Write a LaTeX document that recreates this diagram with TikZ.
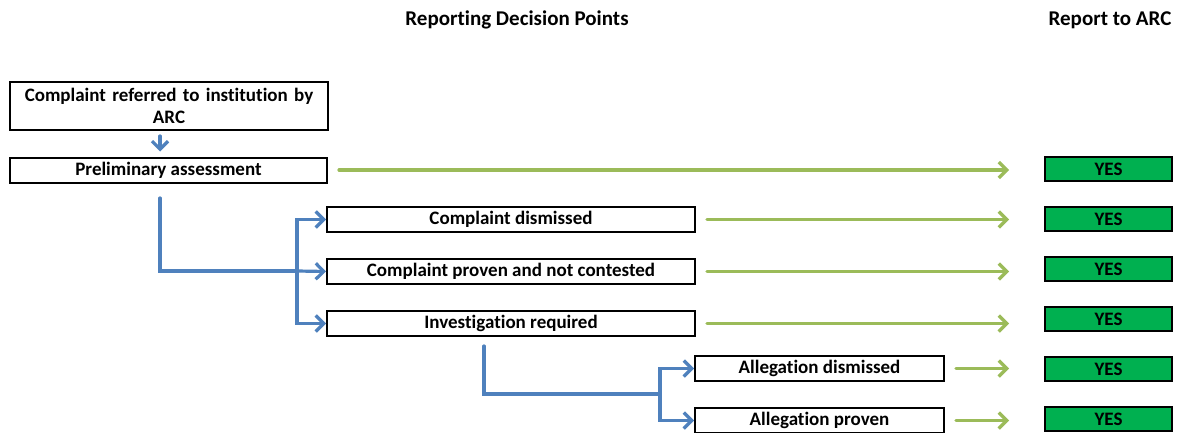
\documentclass[tikz,border=0pt]{standalone}
\usepackage{fontspec}
\setmainfont{Carlito}[Ligatures=NoCommon]
\usetikzlibrary{arrows.meta, positioning}

\definecolor{flowblue}{HTML}{4F81BD}
\definecolor{flowgreen}{HTML}{9BBB59}
\definecolor{yesgreen}{HTML}{00B050}

\begin{document}
\begin{tikzpicture}[
	x=1pt, y=-1pt,
	font=\fontsize{19}{22}\selectfont\bfseries,
	block/.style={rectangle, draw, line width=2pt, fill=white,
		inner sep=0pt, text centered, minimum height=25pt},
	yesbox/.style={rectangle, draw, line width=2pt, fill=yesgreen,
		inner sep=0pt, minimum width=127pt, minimum height=24pt},
	bline/.style={draw=flowblue, line width=3.2pt, line cap=round,
		-{Straight Barb[length=8pt, width=16pt, line width=3.2pt]}},
	gline/.style={draw=flowgreen, line width=3.2pt, line cap=round,
		-{Straight Barb[length=8pt, width=16pt, line width=3.2pt]}},
	]
	\useasboundingbox (0,0) rectangle (1177,433);

	% headings
	\node [font=\fontsize{21}{24}\selectfont\bfseries] (head) at (517,20) {Reporting Decision Points};
	\node [font=\fontsize{21}{24}\selectfont\bfseries] (headarc) at (1110,20) {Report to ARC};

	% decision points
	\node [block, minimum width=318pt, minimum height=48pt, text width=314pt] (referred) at (169,106) {Complaint referred to institution by\\ARC};
	\node [block, minimum width=317pt] (prelim) at (168.5,170) {Preliminary assessment};
	\node [block, minimum width=368pt] (dismissed) at (511,219.5) {Complaint dismissed};
	\node [block, minimum width=368pt, below=25pt of dismissed] (proven) {Complaint proven and not contested};
	\node [block, minimum width=368pt, below=25pt of proven] (invest) {Investigation required};
	\node [block, minimum width=249pt] (adismissed) at (819.5,368.5) {Allegation dismissed};
	\node [block, minimum width=249pt, below=25pt of adismissed] (aproven) {Allegation proven};

	% report boxes
	\foreach \n/\y in {1/169, 2/219, 3/269, 4/319, 5/369, 6/419}
		\node [yesbox] (yes\n) at (1108.5,\y) {YES};

	% blue connectors
	\coordinate (start1) at (160,198);
	\coordinate (fork1) at (297,271);
	\draw [bline, shorten >=5pt, shorten <=5pt] (referred.south -| start1) -- (prelim.north -| start1);
	\draw [bline, -] (start1) |- (fork1);
	\draw [bline] (fork1) -- (proven.west);
	\draw [bline] (fork1) |- (dismissed.west);
	\draw [bline] (fork1) |- (invest.west);
	\coordinate (start2) at (484,346);
	\coordinate (fork2) at (660,394);
	\draw [bline, -] (start2) |- (fork2);
	\draw [bline] (fork2) |- (adismissed.west);
	\draw [bline] (fork2) |- (aproven.west);

	% green connectors
	\draw [gline, shorten <=11pt, shorten >=35pt] (prelim.east) -- (prelim.east -| yes1.west);
	\draw [gline, shorten <=11pt, shorten >=35pt] (dismissed.east) -- (dismissed.east -| yes2.west);
	\draw [gline, shorten <=11pt, shorten >=35pt] (proven.east) -- (proven.east -| yes3.west);
	\draw [gline, shorten <=11pt, shorten >=35pt] (invest.east) -- (invest.east -| yes4.west);
	\draw [gline, shorten <=11pt, shorten >=35pt] (adismissed.east) -- (adismissed.east -| yes5.west);
	\draw [gline, shorten <=11pt, shorten >=35pt] (aproven.east) -- (aproven.east -| yes6.west);
\end{tikzpicture}
\end{document}
